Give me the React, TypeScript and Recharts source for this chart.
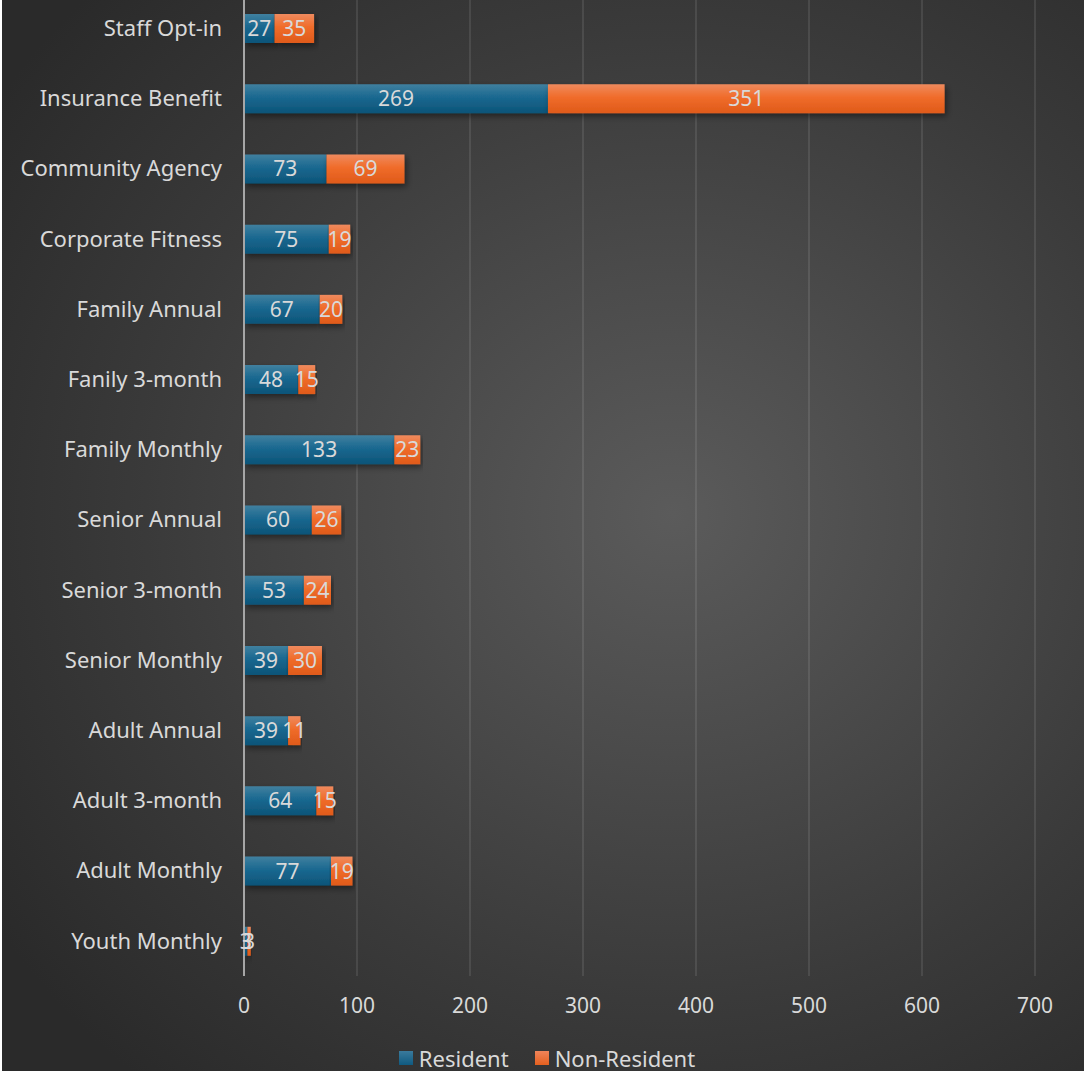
import React from "react";
import { BarChart, Bar, XAxis, YAxis, CartesianGrid, Legend, LabelList } from "recharts";

const categories = [
  "Staff Opt-in",
  "Insurance Benefit",
  "Community Agency",
  "Corporate Fitness",
  "Family Annual",
  "Fanily 3-month",
  "Family Monthly",
  "Senior Annual",
  "Senior 3-month",
  "Senior Monthly",
  "Adult Annual",
  "Adult 3-month",
  "Adult Monthly",
  "Youth Monthly",
];
const residentValues = [27, 269, 73, 75, 67, 48, 133, 60, 53, 39, 39, 64, 77, 3];
const nonResidentValues = [35, 351, 69, 19, 20, 15, 23, 26, 24, 30, 11, 15, 19, 3];
const xTicks = [0, 100, 200, 300, 400, 500, 600, 700];
const seriesNames = ["Resident", "Non-Resident"];

const data = categories.map((name, i) => ({
  name,
  resident: residentValues[i],
  nonResident: nonResidentValues[i],
}));

const FONT = "'Noto Sans', 'Open Sans', sans-serif";
const TEXT = "#d9d9d9";

const LegendContent = () => (
  <div
    style={{
      display: "flex",
      justifyContent: "center",
      alignItems: "center",
      height: 24,
      fontFamily: FONT,
      fontSize: 22,
      lineHeight: "20px",
      color: TEXT,
      paddingLeft: 8,
    }}
  >
    <div style={{ display: "flex", alignItems: "center", marginRight: 26 }}>
      <span style={{ width: 14, height: 14, background: "linear-gradient(#3a7a9c,#0f5a80)", display: "inline-block", marginRight: 6 }} />
      <span>{seriesNames[0]}</span>
    </div>
    <div style={{ display: "flex", alignItems: "center" }}>
      <span style={{ width: 14, height: 14, background: "linear-gradient(#f0845a,#e4601f)", display: "inline-block", marginRight: 6 }} />
      <span>{seriesNames[1]}</span>
    </div>
  </div>
);

export default function App() {
  return (
    <div style={{ position: "absolute", left: 0, top: 0, width: 1084, height: 1071, background: "#ffffff", overflow: "hidden" }}>
      <div
        style={{
          position: "absolute",
          left: 2,
          top: 0,
          width: 1082,
          height: 1071,
          overflow: "hidden",
          fontFamily: FONT,
          background:
            "radial-gradient(ellipse 75% 70% at 62% 48%, #5b5b5b 0%, #4c4c4c 30%, #3a3a3a 65%, #2a2a2a 100%)",
        }}
      >
        <div style={{ marginTop: -7 }}>
          <BarChart
            width={1082}
            height={1077}
            data={data}
            layout="vertical"
            margin={{ top: 0, right: 49, bottom: 0, left: 0 }}
          >
            <defs>
              <linearGradient id="gradBlue" x1="0" y1="0" x2="0" y2="1">
                <stop offset="0%" stopColor="#40809f" />
                <stop offset="45%" stopColor="#1a6890" />
                <stop offset="100%" stopColor="#0c5478" />
              </linearGradient>
              <linearGradient id="gradOrange" x1="0" y1="0" x2="0" y2="1">
                <stop offset="0%" stopColor="#ef8a5e" />
                <stop offset="45%" stopColor="#f06c2a" />
                <stop offset="100%" stopColor="#df5a1a" />
              </linearGradient>
              <filter id="barShadow" x="-5%" y="-30%" width="115%" height="180%">
                <feDropShadow dx="2" dy="3" stdDeviation="3" floodColor="#000000" floodOpacity="0.45" />
              </filter>
            </defs>
            <CartesianGrid horizontal={false} vertical stroke="rgba(255,255,255,0.13)" strokeWidth={1.5} />
            <XAxis
              type="number"
              domain={[0, 700]}
              ticks={xTicks}
              axisLine={false}
              tickLine={false}
              tickSize={0}
              tickMargin={22}
              height={70}
              tick={{ fill: TEXT, fontSize: 21, fontFamily: FONT }}
            />
            <YAxis
              type="category"
              dataKey="name"
              width={242}
              axisLine={{ stroke: "#a6a6a6", strokeWidth: 2 }}
              tickLine={false}
              tickSize={0}
              tickMargin={22}
              tick={{ fill: TEXT, fontSize: 22, fontFamily: FONT }}
              interval={0}
            />
            <Legend verticalAlign="bottom" height={24} content={<LegendContent />} wrapperStyle={{ left: 0, width: 1082 }} />
            <Bar
              dataKey="resident"
              name={seriesNames[0]}
              stackId="a"
              barSize={29}
              fill="url(#gradBlue)"
              filter="url(#barShadow)"
              isAnimationActive={false}
            >
              <LabelList dataKey="resident" position="center" fill={TEXT} fontSize={21} fontFamily={FONT} />
            </Bar>
            <Bar
              dataKey="nonResident"
              name={seriesNames[1]}
              stackId="a"
              barSize={29}
              fill="url(#gradOrange)"
              filter="url(#barShadow)"
              isAnimationActive={false}
            >
              <LabelList dataKey="nonResident" position="center" fill={TEXT} fontSize={21} fontFamily={FONT} />
            </Bar>
          </BarChart>
        </div>
      </div>
    </div>
  );
}
